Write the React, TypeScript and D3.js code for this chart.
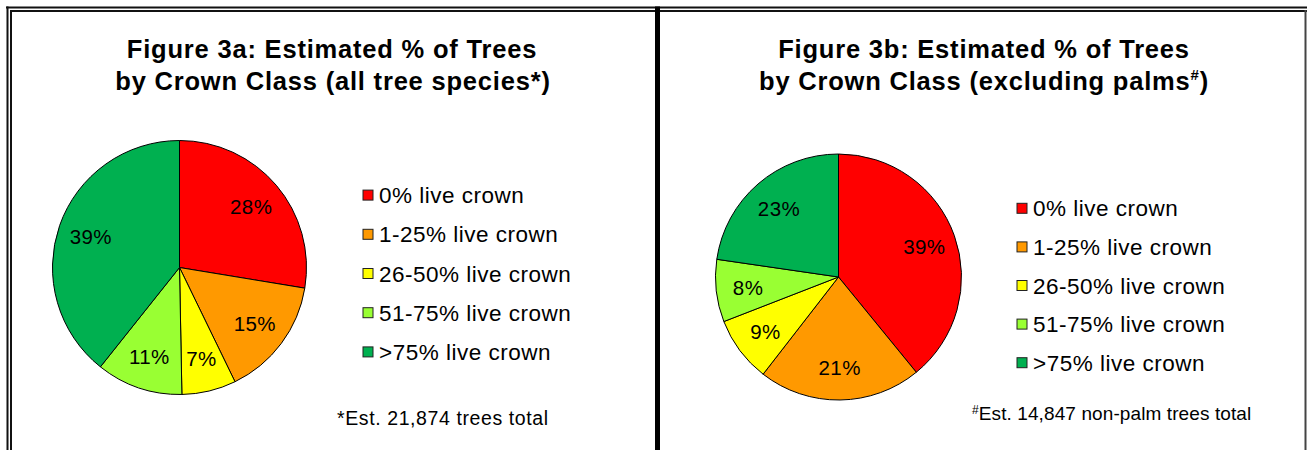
import { useEffect, useRef } from 'react';
import * as d3 from 'd3';

const classes = ['0% live crown', '1-25% live crown', '26-50% live crown', '51-75% live crown', '>75% live crown'];
const colors = ['#ff0000', '#ff9900', '#ffff00', '#99ff33', '#00b050'];

// percentages, clockwise from 12 o'clock
const allSpecies = [27.6, 15.2, 6.9, 11.0, 39.3];
const nonPalms = [39.1, 21.4, 8.6, 8.2, 22.7];

const titles3a = ['Figure 3a: Estimated % of Trees', 'by Crown Class (all tree species*)'];
const titles3b = ['Figure 3b: Estimated % of Trees', 'by Crown Class (excluding palms', '#', ')'];
const note3a = '*Est. 21,874 trees total';
const note3b = ['#', 'Est. 14,847 non-palm trees total'];

type Panel = {
  cx: number;
  cy: number;
  r: number;
  values: number[];
  legendX: number;
  legendY: number;
  legendStep: number;
};

function drawPie(g: d3.Selection<SVGGElement, unknown, null, undefined>, p: Panel) {
  const pie = d3.pie<number>().sort(null).value((d) => d);
  const arcs = pie(p.values);
  const arc = d3.arc<d3.PieArcDatum<number>>().innerRadius(0).outerRadius(p.r);
  const labelArc = d3.arc<d3.PieArcDatum<number>>().innerRadius(p.r * 0.74).outerRadius(p.r * 0.74);

  const pg = g.append('g').attr('transform', `translate(${p.cx},${p.cy})`);
  pg.selectAll('path')
    .data(arcs)
    .join('path')
    .attr('d', arc)
    .attr('fill', (_, i) => colors[i])
    .attr('stroke', '#000')
    .attr('stroke-width', 1);

  pg.selectAll('text')
    .data(arcs)
    .join('text')
    .attr('transform', (d) => `translate(${labelArc.centroid(d)})`)
    .attr('text-anchor', 'middle')
    .attr('dy', '0.36em')
    .attr('font-size', 20.5)
    .attr('letter-spacing', 0.4)
    .text((d) => `${Math.round(d.data)}%`);

  const y = d3.scaleBand<number>().domain(d3.range(classes.length)).range([p.legendY, p.legendY + p.legendStep * classes.length]);
  const lg = g.append('g');
  classes.forEach((c, i) => {
    const cy = (y(i) ?? 0) + y.bandwidth() / 2;
    lg.append('rect')
      .attr('x', p.legendX)
      .attr('y', cy - 5)
      .attr('width', 10)
      .attr('height', 10)
      .attr('fill', colors[i])
      .attr('stroke', '#222')
      .attr('stroke-width', 1);
    lg.append('text')
      .attr('x', p.legendX + 16)
      .attr('y', cy)
      .attr('dy', '0.36em')
      .attr('font-size', 22.5)
      .attr('letter-spacing', 0.5)
      .text(c);
  });
}

export default function App() {
  const ref = useRef<SVGSVGElement>(null);

  useEffect(() => {
    if (!ref.current) return;
    const svg = d3.select(ref.current);
    svg.selectAll('*').remove();
    const g = svg.append('g').attr('font-family', '"Liberation Sans", Arial, sans-serif').attr('fill', '#000');

    g.append('rect').attr('width', 1307).attr('height', 450).attr('fill', '#fff');

    const left: Panel = { cx: 179.5, cy: 267.5, r: 127, values: allSpecies, legendX: 363, legendY: 175.5, legendStep: 39.2 };
    const right: Panel = { cx: 838.5, cy: 277, r: 123, values: nonPalms, legendX: 1017, legendY: 189, legendStep: 38.6 };

    drawPie(g, left);
    drawPie(g, right);

    // titles
    const t1 = g.append('text').attr('text-anchor', 'middle').attr('font-size', 25.5).attr('font-weight', 'bold').attr('letter-spacing', 0.8);
    t1.append('tspan').attr('x', 332).attr('y', 58).text(titles3a[0]);
    t1.append('tspan').attr('x', 333).attr('y', 90).text(titles3a[1]);

    const t2 = g.append('text').attr('text-anchor', 'middle').attr('font-size', 25.5).attr('font-weight', 'bold').attr('letter-spacing', 0.8);
    t2.append('tspan').attr('x', 984).attr('y', 58).text(titles3b[0]);
    const l2 = t2.append('tspan').attr('x', 984).attr('y', 90);
    l2.append('tspan').text(titles3b[1]);
    l2.append('tspan').attr('font-size', 15).attr('dy', -10).text(titles3b[2]);
    l2.append('tspan').attr('dy', 10).text(titles3b[3]);

    // footnotes
    g.append('text')
      .attr('x', 337)
      .attr('y', 425)
      .attr('font-size', 19.5)
      .attr('letter-spacing', 0.6)
      .text(note3a);
    const n2 = g.append('text').attr('x', 972).attr('y', 420).attr('font-size', 19).attr('letter-spacing', 0.1);
    n2.append('tspan').attr('font-size', 12).attr('dy', -6).text(note3b[0]);
    n2.append('tspan').attr('dy', 6).text(note3b[1]);

    // frame
    const frame = g.append('g').attr('fill', 'none');
    frame.append('line').attr('x1', 6).attr('x2', 1307).attr('y1', 7.5).attr('y2', 7.5).attr('stroke', '#111').attr('stroke-width', 2);
    frame.append('line').attr('x1', 10).attr('x2', 1307).attr('y1', 11).attr('y2', 11).attr('stroke', '#111').attr('stroke-width', 2);
    frame.append('line').attr('x1', 7.5).attr('x2', 7.5).attr('y1', 6.5).attr('y2', 450).attr('stroke', '#111').attr('stroke-width', 2);
    frame.append('line').attr('x1', 11).attr('x2', 11).attr('y1', 10).attr('y2', 450).attr('stroke', '#111').attr('stroke-width', 2);
    frame.append('line').attr('x1', 657.5).attr('x2', 657.5).attr('y1', 6.5).attr('y2', 450).attr('stroke', '#000').attr('stroke-width', 5);
    frame.append('line').attr('x1', 1305.5).attr('x2', 1305.5).attr('y1', 10).attr('y2', 450).attr('stroke', '#444').attr('stroke-width', 2);
  }, []);

  return (
    <svg
      ref={ref}
      width={1307}
      height={450}
      viewBox="0 0 1307 450"
      style={{ position: 'absolute', left: 0, top: 0, display: 'block' }}
    />
  );
}
